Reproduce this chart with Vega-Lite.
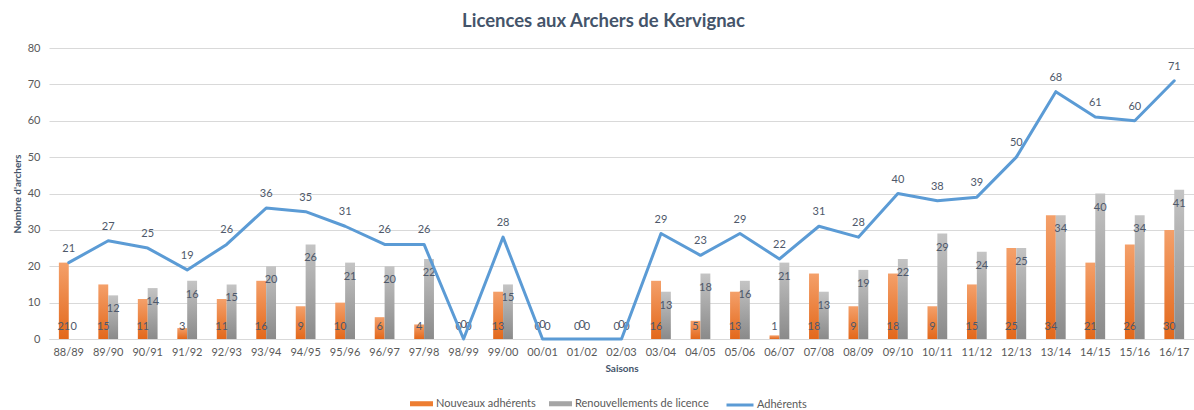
{
  "$schema": "https://vega.github.io/schema/vega-lite/v6.json",
  "autosize": "none",
  "width": 1145,
  "height": 291,
  "padding": {"left": 49, "top": 48, "right": 0, "bottom": 71},
  "background": "white",
  "title": {"text": "Licences aux Archers de Kervignac", "fontSize": 18.5, "fontWeight": "bold", "color": "#44546a", "font": "Lato", "anchor": "middle", "offset": 12, "dx": -18},
  "config": {
    "view": {"stroke": null},
    "font": "Lato",
    "axis": {"labelFont": "Lato", "titleFont": "Lato"},
    "legend": {"labelFont": "Lato"}
  },
  "data": {"values": [
    {"saison": "88/89", "nouveaux": 21, "renouvellements": 0, "adherents": 21},
    {"saison": "89/90", "nouveaux": 15, "renouvellements": 12, "adherents": 27},
    {"saison": "90/91", "nouveaux": 11, "renouvellements": 14, "adherents": 25},
    {"saison": "91/92", "nouveaux": 3, "renouvellements": 16, "adherents": 19},
    {"saison": "92/93", "nouveaux": 11, "renouvellements": 15, "adherents": 26},
    {"saison": "93/94", "nouveaux": 16, "renouvellements": 20, "adherents": 36},
    {"saison": "94/95", "nouveaux": 9, "renouvellements": 26, "adherents": 35},
    {"saison": "95/96", "nouveaux": 10, "renouvellements": 21, "adherents": 31},
    {"saison": "96/97", "nouveaux": 6, "renouvellements": 20, "adherents": 26},
    {"saison": "97/98", "nouveaux": 4, "renouvellements": 22, "adherents": 26},
    {"saison": "98/99", "nouveaux": 0, "renouvellements": 0, "adherents": 0},
    {"saison": "99/00", "nouveaux": 13, "renouvellements": 15, "adherents": 28},
    {"saison": "00/01", "nouveaux": 0, "renouvellements": 0, "adherents": 0},
    {"saison": "01/02", "nouveaux": 0, "renouvellements": 0, "adherents": 0},
    {"saison": "02/03", "nouveaux": 0, "renouvellements": 0, "adherents": 0},
    {"saison": "03/04", "nouveaux": 16, "renouvellements": 13, "adherents": 29},
    {"saison": "04/05", "nouveaux": 5, "renouvellements": 18, "adherents": 23},
    {"saison": "05/06", "nouveaux": 13, "renouvellements": 16, "adherents": 29},
    {"saison": "06/07", "nouveaux": 1, "renouvellements": 21, "adherents": 22},
    {"saison": "07/08", "nouveaux": 18, "renouvellements": 13, "adherents": 31},
    {"saison": "08/09", "nouveaux": 9, "renouvellements": 19, "adherents": 28},
    {"saison": "09/10", "nouveaux": 18, "renouvellements": 22, "adherents": 40},
    {"saison": "10/11", "nouveaux": 9, "renouvellements": 29, "adherents": 38},
    {"saison": "11/12", "nouveaux": 15, "renouvellements": 24, "adherents": 39},
    {"saison": "12/13", "nouveaux": 25, "renouvellements": 25, "adherents": 50},
    {"saison": "13/14", "nouveaux": 34, "renouvellements": 34, "adherents": 68},
    {"saison": "14/15", "nouveaux": 21, "renouvellements": 40, "adherents": 61},
    {"saison": "15/16", "nouveaux": 26, "renouvellements": 34, "adherents": 60},
    {"saison": "16/17", "nouveaux": 30, "renouvellements": 41, "adherents": 71}
  ]},
  "encoding": {
    "x": {"field": "saison", "type": "ordinal", "sort": null,
      "scale": {"paddingInner": 0, "paddingOuter": 0},
      "axis": {"labelAngle": 0, "title": "Saisons", "titleFontSize": 10, "titleFontWeight": "bold", "titleColor": "#44546a", "titlePadding": 6,
        "labelColor": "#595959", "labelFontSize": 11, "labelPadding": 7, "ticks": false, "domainColor": "#d9d9d9", "domainWidth": 1}},
    "y": {"type": "quantitative",
      "scale": {"domain": [0, 80], "nice": false},
      "axis": {"values": [0, 10, 20, 30, 40, 50, 60, 70, 80], "title": "Nombre d'archers", "titleFontSize": 10, "titleFontWeight": "bold", "titleColor": "#44546a", "titlePadding": 5,
        "labelColor": "#595959", "labelFontSize": 11, "labelPadding": 9, "ticks": false, "domain": false, "gridColor": "#d9d9d9", "gridWidth": 1}}
  },
  "layer": [
    {
      "transform": [{"fold": ["nouveaux", "renouvellements"], "as": ["serie", "valeur"]}],
      "layer": [
        {
          "mark": {"type": "bar"},
          "encoding": {
            "xOffset": {"field": "serie", "type": "nominal", "scale": {"paddingInner": 0, "paddingOuter": 1.08}},
            "y": {"field": "valeur", "type": "quantitative"},
            "fill": {"field": "serie", "type": "nominal",
              "scale": {"domain": ["nouveaux", "renouvellements"], "range": ["#ed7d31", "#a5a5a5"]},
              "condition": [
                {"test": "datum.serie === 'nouveaux'", "value": {"gradient": "linear", "x1": 0, "y1": 0, "x2": 0, "y2": 1, "stops": [{"offset": 0, "color": "#f4a06a"}, {"offset": 1, "color": "#e3681b"}]}},
                {"test": "datum.serie === 'renouvellements'", "value": {"gradient": "linear", "x1": 0, "y1": 0, "x2": 0, "y2": 1, "stops": [{"offset": 0, "color": "#c4c4c4"}, {"offset": 1, "color": "#8a8a8a"}]}}
              ],
              "legend": {"orient": "none", "legendX": 361, "legendY": 344, "direction": "horizontal", "title": null,
                "symbolType": "M-1,-0.22H1V0.22H-1Z", "symbolSize": 529, "symbolStrokeWidth": 0,
                "labelFontSize": 11, "labelColor": "#595959", "labelOffset": 3, "columnPadding": 13,
                "labelExpr": "datum.label === 'nouveaux' ? 'Nouveaux adhérents' : 'Renouvellements de licence'"}}
          }
        },
        {
          "transform": [{"filter": "datum.serie === 'nouveaux' || datum.valeur === 0"}],
          "mark": {"type": "text", "dy": -12, "fontSize": 11, "color": "#4e586a"},
          "encoding": {
            "xOffset": {"field": "serie", "type": "nominal"},
            "y": {"datum": 0, "type": "quantitative"},
            "text": {"field": "valeur", "type": "quantitative"}
          }
        },
        {
          "transform": [{"filter": "datum.serie === 'renouvellements' && datum.valeur > 0"}],
          "mark": {"type": "text", "dy": 14, "fontSize": 11, "color": "#4e586a"},
          "encoding": {
            "xOffset": {"field": "serie", "type": "nominal"},
            "y": {"field": "valeur", "type": "quantitative"},
            "text": {"field": "valeur", "type": "quantitative"}
          }
        }
      ]
    },
    {
      "layer": [
        {
          "mark": {"type": "line", "strokeWidth": 3, "strokeJoin": "round", "strokeCap": "round"},
          "encoding": {
            "y": {"field": "adherents", "type": "quantitative"},
            "stroke": {"datum": "Adhérents", "type": "nominal",
              "scale": {"range": ["#5b9bd5"]},
              "legend": {"orient": "none", "legendX": 676, "legendY": 342, "title": null,
                "symbolType": "stroke", "symbolSize": 729, "symbolStrokeWidth": 3,
                "labelFontSize": 11, "labelColor": "#595959", "labelOffset": 2}}
          }
        },
        {
          "mark": {"type": "text", "dy": -14, "fontSize": 11, "color": "#4e586a"},
          "encoding": {
            "y": {"field": "adherents", "type": "quantitative"},
            "text": {"field": "adherents", "type": "quantitative"}
          }
        }
      ]
    }
  ]
}
